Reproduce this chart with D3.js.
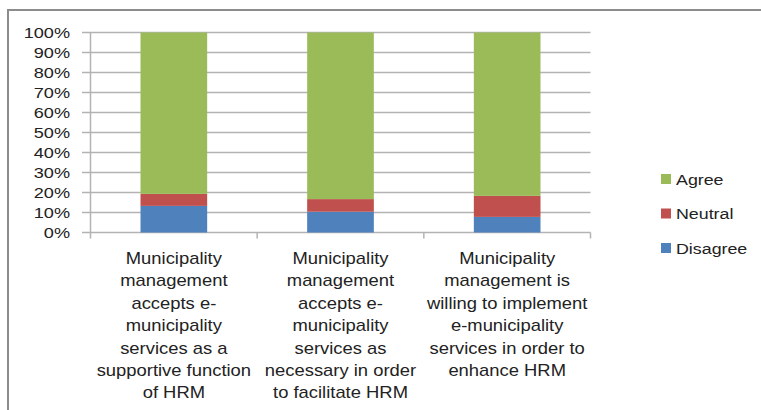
<!DOCTYPE html>
<html>
<head>
<meta charset="utf-8">
<script src="https://cdn.jsdelivr.net/npm/d3@7"></script>
<style>
  html, body { margin: 0; padding: 0; background: #fff; }
  svg { display: block; font-family: "Liberation Sans", Arial, sans-serif; }
</style>
</head>
<body>
<svg id="chart" width="761" height="410"></svg>
<script>
/* datos */
const categorias = ["c1", "c2", "c3"]
const etiquetas = [
  ["Municipality", "management", "accepts e-", "municipality", "services as a", "supportive function", "of HRM"],
  ["Municipality", "management", "accepts e-", "municipality", "services as", "necessary in order", "to facilitate HRM"],
  ["Municipality", "management is", "willing to implement", "e-municipality", "services in order to", "enhance HRM"]
]
const series = ["Disagree", "Neutral", "Agree"]
const disagree = [13.3, 10.4, 7.8]
const neutral = [6.0, 6.3, 10.5]
const agree = [80.7, 83.3, 81.7]
const colores = ["#4F81BD", "#C0504D", "#9BBB59"]
const ticks = [0, 10, 20, 30, 40, 50, 60, 70, 80, 90, 100]

/* tabla para d3.stack */
const tabla = categorias.map((c, i) => ({ cat: c, Disagree: disagree[i], Neutral: neutral[i], Agree: agree[i] }))
const pilas = d3.stack().keys(series)(tabla)

const svg = d3.select('#chart')

/* marco */
svg.append('rect')
  .attr('x', 8).attr('y', 10).attr('width', 800).attr('height', 460)
  .attr('fill', 'none').attr('stroke', '#8c8c8c').attr('stroke-width', 2)

/* escalas */
const x = d3.scaleBand().domain(categorias).range([90.5, 590.5]).paddingInner(0.6).paddingOuter(0.3)
const y = d3.scaleLinear().domain([0, 100]).range([232.5, 32.5])

/* rejilla */
svg.append('g').selectAll('line').data(ticks).join('line')
  .attr('x1', 82).attr('x2', 590.5)
  .attr('y1', d => y(d)).attr('y2', d => y(d))
  .attr('stroke', '#b3b3b3').attr('stroke-width', 1.5)

/* eje y */
svg.append('line').attr('x1', 90.5).attr('x2', 90.5).attr('y1', y(100)).attr('y2', y(0) + 6)
  .attr('stroke', '#b3b3b3').attr('stroke-width', 1.5)

svg.append('g').selectAll('text').data(ticks).join('text')
  .attr('transform', d => `translate(70,${y(d) + 5}) scale(1.25,1)`)
  .attr('text-anchor', 'end')
  .attr('font-size', 14.5)
  .attr('fill', '#222')
  .text(d => d + '%')

/* eje x: marcas entre categorías */
const bordes = categorias.map(c => x(c) + x.bandwidth() / 2 + x.step() / 2)
svg.append('g').selectAll('line').data(bordes).join('line')
  .attr('x1', d => d).attr('x2', d => d)
  .attr('y1', y(0)).attr('y2', y(0) + 6)
  .attr('stroke', '#b3b3b3').attr('stroke-width', 1.5)

/* barras apiladas */
svg.append('g').selectAll('g').data(pilas).join('g')
  .attr('fill', (d, i) => colores[i])
  .selectAll('rect').data(d => d).join('rect')
  .attr('x', d => x(d.data.cat))
  .attr('width', x.bandwidth())
  .attr('y', d => y(d[1]))
  .attr('height', d => y(d[0]) - y(d[1]))

/* etiquetas de categoría */
const grupos = svg.append('g').selectAll('g').data(categorias).join('g')
grupos.each(function (c, i) {
  d3.select(this).selectAll('text').data(etiquetas[i]).join('text')
    .attr('transform', (t, j) => `translate(${x(c) + x.bandwidth() / 2},${264 + j * 22.4}) scale(1.15,1)`)
    .attr('text-anchor', 'middle')
    .attr('font-size', 16)
    .attr('fill', '#222')
    .text(t => t)
})

/* leyenda */
const leyenda = svg.append('g').selectAll('g').data(series.slice().reverse()).join('g')
  .attr('transform', (d, i) => `translate(661,${179 + i * 34.5})`)
leyenda.append('rect')
  .attr('x', 0).attr('y', -5).attr('width', 10).attr('height', 10)
  .attr('fill', d => colores[series.indexOf(d)])
leyenda.append('text')
  .attr('transform', 'translate(15,5.5) scale(1.15,1)')
  .attr('font-size', 15.5)
  .attr('fill', '#222')
  .text(d => d)
</script>
</body>
</html>
